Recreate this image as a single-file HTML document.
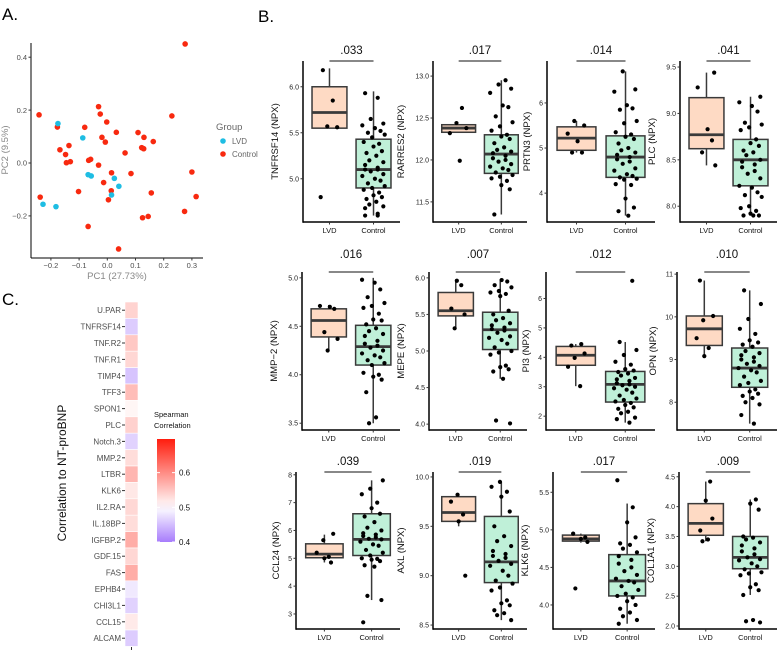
<!DOCTYPE html>
<html><head><meta charset="utf-8"><style>
body{margin:0;background:#fff;}
svg{display:block;font-family:"Liberation Sans",sans-serif;}
</style></head><body>
<svg id="fig" width="778" height="650" viewBox="0 0 778 650">
<text x="2" y="20" font-size="17">A.</text>
<text x="258" y="22" font-size="17">B.</text>
<text x="2" y="305" font-size="17">C.</text>
<g id="pca"></g>
<g id="heat"></g>
<g id="boxes"></g>
</svg>
<script>
// ---------- PCA data ----------
const ctrlPC1 = [0.276,-0.242,-0.177,-0.031,-0.025,-0.002,-0.080,0.032,-0.019,-0.007,0.109,0.130,0.122,0.129,0.163,0.229,-0.168,-0.136,-0.148,-0.145,-0.131,-0.066,-0.059,0.063,-0.031,0.015,0.084,-0.013,0.014,0.004,-0.102,-0.238,0.300,0.315,0.156,0.274,0.125,0.145,-0.068,0.040];
const ctrlPC2 = [0.450,0.182,0.136,0.213,0.185,0.155,0.135,0.116,0.097,0.079,0.115,0.097,0.058,0.054,0.081,0.178,0.050,0.066,0.032,0.001,0.005,0.010,0.014,0.038,-0.008,-0.037,-0.040,-0.074,-0.105,-0.139,-0.108,-0.129,-0.034,-0.127,-0.113,-0.183,-0.207,-0.202,-0.240,-0.325];
const lvdPC1 = [-0.175,-0.087,-0.068,-0.057,0.025,0.041,0.015,-0.228,-0.182];
const lvdPC2 = [0.149,0.095,-0.044,-0.049,-0.058,-0.088,-0.121,-0.156,-0.165];
const pcaXTicks = [-0.2,-0.1,0.0,0.1,0.2,0.3];
const pcaYTicks = [-0.2,0.0,0.2,0.4];

// ---------- Heatmap data ----------
const heatLabels = ["U.PAR","TNFRSF14","TNF.R2","TNF.R1","TIMP4","TFF3","SPON1","PLC","Notch.3","MMP.2","LTBR","KLK6","IL2.RA","IL.18BP","IGFBP.2","GDF.15","FAS","EPHB4","CHI3L1","CCL15","ALCAM"];
const heatValues = [0.538,0.461,0.548,0.535,0.455,0.558,0.508,0.54,0.466,0.53,0.564,0.52,0.534,0.53,0.572,0.535,0.572,0.483,0.466,0.518,0.461];
const legendTicks = [0.4,0.5,0.6];

// ---------- Boxplot data ----------
const panelNames = ["TNFRSF14","RARRES2","PRTN3","PLC","MMP\u22122","MEPE","PI3","OPN","CCL24","AXL","KLK6","COL1A1"];
const pValues = [".033",".017",".014",".041",".016",".007",".012",".010",".039",".019",".017",".009"];
const yDomains = [[4.53,6.28],[11.26,13.18],[3.36,6.93],[7.83,9.565],[3.43,5.06],[3.92,6.08],[1.53,6.9],[7.35,11.05],[2.46,8.1],[8.46,10.05],[3.68,5.77],[1.95,4.58]];
const yTicks = [[5.0,5.5,6.0],[11.5,12.0,12.5,13.0],[4,5,6],[8.0,8.5,9.0,9.5],[3.5,4.0,4.5,5.0],[4.0,4.5,5.0,5.5,6.0],[2,3,4,5,6],[8,9,10,11],[3,4,5,6,7,8],[8.5,9.0,9.5,10.0],[4.0,4.5,5.0,5.5],[2.0,2.5,3.0,3.5,4.0,4.5]];
const tickDecimals = [1,1,0,1,1,1,0,0,0,1,1,1];
// stats: [low whisker, q1, median, q3, high whisker]
const lvdStats = [[5.55,5.55,5.72,6.0,6.2],[12.33,12.33,12.38,12.42,12.42],[4.9,4.95,5.22,5.47,5.6],[8.44,8.62,8.77,9.17,9.44],[4.25,4.39,4.56,4.68,4.72],[5.31,5.48,5.55,5.8,5.98],[3.02,3.73,4.07,4.37,4.45],[9.08,9.33,9.72,10.02,10.85],[4.85,5.02,5.15,5.52,5.85],[9.5,9.55,9.64,9.8,9.82],[4.83,4.85,4.88,4.93,4.95],[3.42,3.52,3.72,4.05,4.42]];
const ctrlStats = [[4.6,4.9,5.1,5.43,5.95],[11.35,11.84,12.07,12.3,12.95],[3.5,4.35,4.8,5.27,6.7],[7.9,8.22,8.5,8.72,9.18],[3.5,4.1,4.29,4.51,5.0],[4.62,5.02,5.29,5.53,5.98],[1.78,2.48,3.08,3.52,4.52],[7.5,8.35,8.8,9.27,10.62],[3.5,5.1,5.68,6.6,7.8],[8.55,8.93,9.14,9.6,9.95],[3.75,4.12,4.32,4.67,5.35],[2.52,2.96,3.15,3.5,4.12]];
const lvdPoints = [
[6.18,5.85,5.57,5.56,4.8],
[12.62,12.44,12.38,12.32,11.99],
[5.6,5.5,5.32,5.15,4.9,4.9],
[9.44,9.28,8.83,8.71,8.58,8.44],
[4.71,4.7,4.68,4.44,4.37,4.25],
[5.96,5.9,5.58,5.5,5.31],
[4.45,4.4,4.13,3.98,3.68,3.02],
[10.85,10.02,9.92,9.5,9.27,9.08],
[5.88,5.65,5.2,5.05,5.0,4.85],
[9.82,9.75,9.62,9.55,9.0],
[4.95,4.9,4.88,4.84,4.22],
[4.42,4.1,3.8,3.6,3.45,3.42]];
const ctrlPoints = [
[5.93,5.88,5.65,5.6,5.58,5.55,5.52,5.5,5.48,5.45,5.4,5.38,5.35,5.3,5.28,5.25,5.2,5.18,5.15,5.12,5.1,5.1,5.08,5.05,5.03,5.0,4.98,4.95,4.92,4.9,4.88,4.85,4.82,4.8,4.78,4.75,4.72,4.7,4.68,4.62,4.6,4.6],
[12.95,12.9,12.85,12.8,12.65,12.63,12.52,12.45,12.4,12.35,12.3,12.28,12.25,12.2,12.15,12.12,12.1,12.08,12.05,12.02,12.0,11.98,11.95,11.92,11.9,11.88,11.85,11.82,11.8,11.78,11.75,11.7,11.65,11.35],
[6.7,6.3,6.25,5.95,5.88,5.85,5.6,5.55,5.35,5.3,5.25,5.2,5.1,5.0,4.95,4.9,4.85,4.8,4.75,4.7,4.65,4.55,4.5,4.42,4.38,4.35,4.32,4.3,4.2,4.18,3.88,3.68,3.6,3.5],
[9.18,9.12,9.08,9.02,8.9,8.88,8.85,8.82,8.72,8.68,8.65,8.6,8.58,8.55,8.5,8.48,8.45,8.42,8.38,8.35,8.3,8.22,8.2,8.15,8.12,8.1,8.0,7.98,7.95,7.92,7.9,7.9,7.9],
[4.98,4.95,4.88,4.8,4.74,4.71,4.69,4.63,4.57,4.56,4.52,4.48,4.45,4.42,4.4,4.35,4.32,4.3,4.28,4.25,4.22,4.2,4.18,4.15,4.12,4.1,4.02,4.0,3.98,3.95,3.82,3.56,3.5],
[5.97,5.95,5.9,5.87,5.82,5.8,5.78,5.75,5.55,5.5,5.45,5.42,5.38,5.35,5.32,5.3,5.28,5.25,5.2,5.18,5.15,5.1,5.05,5.0,4.98,4.95,4.8,4.78,4.75,4.72,4.62,4.05,4.01],
[6.6,4.52,4.25,4.08,3.85,3.75,3.6,3.55,3.5,3.45,3.38,3.3,3.25,3.2,3.12,3.08,3.05,3.0,2.95,2.9,2.8,2.7,2.6,2.55,2.5,2.45,2.38,2.3,2.25,2.15,2.1,1.95,1.9,1.78],
[10.62,10.3,9.95,9.72,9.6,9.45,9.4,9.35,9.3,9.2,9.15,9.1,9.05,9.0,8.95,8.9,8.85,8.8,8.75,8.7,8.6,8.5,8.45,8.4,8.3,8.25,8.2,8.15,8.1,8.0,7.95,7.7,7.5],
[7.8,7.5,7.3,7.0,6.8,6.6,6.5,6.3,6.1,6.0,5.9,5.85,5.8,5.75,5.7,5.68,5.6,5.5,5.45,5.3,5.2,5.1,5.0,4.98,4.95,4.9,4.75,4.7,3.65,3.5,2.7],
[9.95,9.9,9.85,9.8,9.65,9.5,9.4,9.35,9.3,9.25,9.22,9.2,9.18,9.15,9.12,9.1,9.05,9.0,8.95,8.92,8.88,8.85,8.75,8.72,8.7,8.65,8.62,8.6,8.55],
[5.66,5.3,5.1,4.9,4.82,4.8,4.75,4.7,4.65,4.6,4.55,4.5,4.45,4.4,4.35,4.32,4.3,4.25,4.2,4.15,4.12,4.1,4.05,4.0,3.95,3.9,3.85,3.8,3.75],
[4.12,4.05,3.95,3.5,3.48,3.45,3.4,3.35,3.3,3.25,3.2,3.15,3.12,3.1,3.05,3.0,2.95,2.9,2.88,2.85,2.7,2.65,2.6,2.52,2.1,2.08,2.06]];

const NS="http://www.w3.org/2000/svg";
function mk(parent,tag,attrs,text){const e=document.createElementNS(NS,tag);for(const k in attrs)e.setAttribute(k,attrs[k]);if(text!==undefined)e.textContent=text;parent.appendChild(e);return e;}

// ---------- PCA ----------
(function(){
  const g=document.getElementById('pca');
  const x0=31,x1=203,y0=43,y1=258;
  const sx=v=>107.3+v*282, sy=v=>163-v*264.5;
  let e=mk(g,'line',{x1:x0,y1:y0,x2:x0,y2:y1,stroke:'#000','stroke-width':1});
  
  
  e=mk(g,'line',{x1:x0,y1:y1,x2:x1,y2:y1,stroke:'#000','stroke-width':1});
  
  
  pcaXTicks.forEach(t=>{
    mk(g,'line',{x1:sx(t),y1:y1,x2:sx(t),y2:y1+2.5,stroke:'#333'});
    const tx=mk(g,'text',{x:sx(t),y:y1+10,'font-size':7.5,'text-anchor':'middle',fill:'#4d4d4d'},(t===0?'0.0':(t<0?'\u2212'+Math.abs(t).toFixed(1):t.toFixed(1))));
    
    
  });
  pcaYTicks.forEach(t=>{
    mk(g,'line',{x1:x0-2.5,y1:sy(t),x2:x0,y2:sy(t),stroke:'#333'});
    const tx=mk(g,'text',{x:x0-4,y:sy(t)+2.7,'font-size':7.5,'text-anchor':'end',fill:'#4d4d4d'},(t===0?'0.0':(t<0?'\u2212'+Math.abs(t).toFixed(1):t.toFixed(1))));
    
    
  });
  e=mk(g,'text',{x:117,y:279,'font-size':9.5,'text-anchor':'middle',fill:'#888'},'PC1 (27.73%)');
  
  
  e=mk(g,'text',{x:0,y:0,'font-size':9.5,'text-anchor':'middle',fill:'#888',transform:'translate(8,150) rotate(-90)'},'PC2 (9.5%)');
  
  
  for(let i=0;i<ctrlPC1.length;i++){
    const c=mk(g,'circle',{cx:sx(ctrlPC1[i]),cy:sy(ctrlPC2[i]),r:2.8,fill:'#f8290f'});
    
    
  }
  for(let i=0;i<lvdPC1.length;i++){
    const c=mk(g,'circle',{cx:sx(lvdPC1[i]),cy:sy(lvdPC2[i]),r:2.8,fill:'#1ebde3'});
    
    
  }
  e=mk(g,'text',{x:216,y:130,'font-size':9.5,fill:'#666'},'Group');
  
  
  e=mk(g,'circle',{cx:223,cy:141,r:2.8,fill:'#1ebde3'});
  
  
  e=mk(g,'text',{x:232,y:144,'font-size':8,fill:'#666'},'LVD');
  
  
  e=mk(g,'circle',{cx:223,cy:154,r:2.8,fill:'#f8290f'});
  
  
  e=mk(g,'text',{x:232,y:157,'font-size':8,fill:'#666'},'Control');
  
  
})();

// ---------- Heatmap ----------
function heatColor(v){
  const lo=[167,124,252], hi=[255,26,10], w=[255,255,255];
  let t,c;
  if(v<0.5){t=Math.min(1,(0.5-v)/0.1);c=lo;} else {t=Math.min(1,(v-0.5)/0.2);c=hi;}
  const r=w.map((x,i)=>Math.round(x+(c[i]-x)*t));
  return 'rgb('+r.join(',')+')';
}
(function(){
  const g=document.getElementById('heat');
  const top=302, h=16.4, x=125, w=13;
  heatLabels.forEach((lab,i)=>{
    const y=top+i*h;
    const r=mk(g,'rect',{x:x,y:y,width:w,height:h,fill:heatColor(heatValues[i]),stroke:'#fff','stroke-width':0.6});
    
    
    mk(g,'line',{x1:x-3,y1:y+h/2,x2:x,y2:y+h/2,stroke:'#333'});
    const t=mk(g,'text',{x:x-4,y:y+h/2+3,'font-size':8,'text-anchor':'end',fill:'#4d4d4d'},lab);
    
    
  });
  mk(g,'line',{x1:x+w/2,y1:647,x2:x+w/2,y2:650,stroke:'#333'});
  let e=mk(g,'text',{x:0,y:0,'font-size':12,'text-anchor':'middle',fill:'#111',transform:'translate(66,473) rotate(-90)'},'Correlation to NT-proBNP');
  
  
  e=mk(g,'text',{x:154,y:417,'font-size':7.5,fill:'#111'},'Spearman');
  
  
  mk(g,'text',{x:154,y:428,'font-size':7.5,fill:'#111'},'Correlation');
  const cbTop=439, cbBot=542, cbMin=0.4, cbMax=0.697;
  const cy=v=>cbBot-(v-cbMin)/(cbMax-cbMin)*(cbBot-cbTop);
  const defs=mk(g,'defs',{});
  const lg=mk(defs,'linearGradient',{id:'cbg',x1:0,y1:1,x2:0,y2:0});
  for(let k=0;k<=10;k++){const v=cbMin+(cbMax-cbMin)*k/10;mk(lg,'stop',{offset:(k*10)+'%','stop-color':heatColor(v)});}
  e=mk(g,'rect',{x:157,y:cbTop,width:18,height:cbBot-cbTop,fill:'url(#cbg)'});
  
  
  legendTicks.forEach(t=>{
    mk(g,'line',{x1:157,y1:cy(t),x2:160,y2:cy(t),stroke:'#fff'});
    mk(g,'line',{x1:172,y1:cy(t),x2:175,y2:cy(t),stroke:'#fff'});
    const tx=mk(g,'text',{x:179,y:cy(t)+3,'font-size':8,fill:'#111'},t.toFixed(1));
    
    
  });
})();

// ---------- Boxplots ----------
(function(){
  const g=document.getElementById('boxes');
  const rowTop=[61,272,472], rowBot=[222,430,629], titleY=[54,258,465];
  const axisX=[[303,433,547,680],[302,429,546,677],[296,433,553,679]];
  const endX=[400,527,655,777];
  const jit=[-6,3,-2,7,-8,1,5,-4,8,-1,-7,4,0,6,-5,2,-3,7,-6,3];
  for(let p=0;p<12;p++){
    const r=Math.floor(p/4), c=p%4;
    const ax=axisX[r][c], ex=endX[c], w=ex-ax, top=rowTop[r], bot=rowBot[r];
    const [dmin,dmax]=yDomains[p];
    const sy=v=>bot-(v-dmin)/(dmax-dmin)*(bot-top);
    const pos=[ax+0.273*w, ax+0.727*w];
    const bw=0.36*w;
    const pg=mk(g,'g',{});
    
    
    mk(pg,'line',{x1:ax,y1:top,x2:ax,y2:bot+0.75,stroke:'#000','stroke-width':1.5});
    mk(pg,'line',{x1:ax,y1:bot,x2:ex,y2:bot,stroke:'#000','stroke-width':1.5});
    yTicks[p].forEach(t=>{
      mk(pg,'line',{x1:ax-2.5,y1:sy(t),x2:ax,y2:sy(t),stroke:'#333'});
      const tx=mk(pg,'text',{x:ax-4,y:sy(t)+2.5,'font-size':7,'text-anchor':'end',fill:'#222'},t.toFixed(tickDecimals[p]));
      
      
    });
    const maxLab=Math.max(...yTicks[p].map(t=>t.toFixed(tickDecimals[p]).length));
    const tX=ax-6-maxLab*4-7;
    let e=mk(pg,'text',{x:0,y:0,'font-size':9.5,'text-anchor':'middle',fill:'#111',transform:'translate('+tX+','+((top+bot)/2)+') rotate(-90)'},panelNames[p]+' (NPX)');
    
    
    ['LVD','Control'].forEach((lab,k)=>{
      mk(pg,'line',{x1:pos[k],y1:bot,x2:pos[k],y2:bot+2.5,stroke:'#333'});
      const tx=mk(pg,'text',{x:pos[k],y:bot+11,'font-size':7.5,'text-anchor':'middle',fill:'#111'},lab);
      
      
    });
    e=mk(pg,'line',{x1:pos[0],y1:top,x2:pos[1],y2:top,stroke:'#111','stroke-width':1});
    
    
    e=mk(pg,'text',{x:(pos[0]+pos[1])/2,y:titleY[r],'font-size':11.5,'text-anchor':'middle',fill:'#111'},pValues[p]);
    
    
    const stats=[lvdStats[p],ctrlStats[p]], fills=['#fedac4','#bff0d8'];
    stats.forEach((s,k)=>{
      const cx=pos[k];
      mk(pg,'line',{x1:cx,y1:sy(s[0]),x2:cx,y2:sy(s[4]),stroke:'#3a3a3a','stroke-width':1.5});
      const b=mk(pg,'rect',{x:cx-bw/2,y:sy(s[3]),width:bw,height:Math.max(0.5,sy(s[1])-sy(s[3])),fill:fills[k],stroke:'#3a3a3a','stroke-width':1.5});
      
      
      const m=mk(pg,'line',{x1:cx-bw/2,y1:sy(s[2]),x2:cx+bw/2,y2:sy(s[2]),stroke:'#3a3a3a','stroke-width':2.8});
      
      
    });
    [lvdPoints[p],ctrlPoints[p]].forEach((pts,k)=>{
      pts.forEach((v,i)=>{
        const pt=mk(pg,'circle',{cx:pos[k]+jit[(i+p)%jit.length]*(k===0?1.1:1.4),cy:sy(v),r:2.1,fill:'#000'});
        
        
      });
    });
  }
})();
</script>
</body></html>
